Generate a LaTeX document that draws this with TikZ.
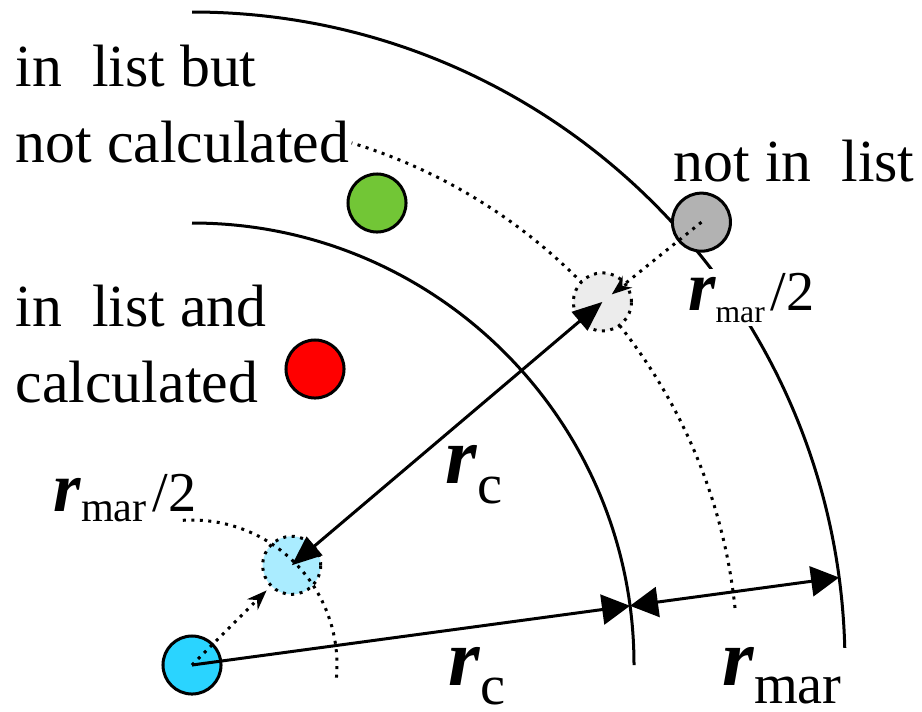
\documentclass[tikz,border=0pt]{standalone}
\usepackage{fontspec}
\setmainfont{Liberation Serif}
\usetikzlibrary{arrows.meta, calc}
\definecolor{ptblue}{RGB}{42,212,255}
\definecolor{ptlblue}{RGB}{170,236,255}
\definecolor{ptgray}{RGB}{178,178,178}
\definecolor{ptlgray}{RGB}{236,236,236}
\definecolor{ptgreen}{RGB}{114,198,54}
\definecolor{ptred}{RGB}{255,0,0}
\newcommand{\rsym}[4]{{\fontsize{#1}{#1}\selectfont\bfseries\itshape r}\raisebox{#4}{\fontsize{#2}{#2}\selectfont #3}}
\tikzset{
  orbit/.style={line width=0.03cm},
  dotline/.style={line width=0.03cm, dash pattern=on 0.03cm off 0.055cm},
  ball/.style={circle, draw=black, line width=0.03cm, minimum size=0.58cm, inner sep=0pt},
  ghost/.style={ball, dash pattern=on 0.03cm off 0.055cm},
  txt/.style={anchor=base west, inner sep=0pt},
  bigtip/.tip={Triangle[length=0.28cm, width=0.3cm]},
  longtip/.tip={Triangle[length=0.3cm, width=0.24cm]},
  dottip/.tip={Stealth[length=0.2cm, width=0.15cm]}
}

\begin{document}
\begin{tikzpicture}[x=0.01cm, y=0.01cm, font=\fontsize{17}{21.6}\selectfont]
  \useasboundingbox (0,0) rectangle (922,711);
  \coordinate (O) at (192,46);
  % cutoff shells
  \draw[orbit] ($(O)+(0:442)$) arc[start angle=0, end angle=90, radius=442];
  \draw[orbit] ($(O)+(1.5:653)$) arc[start angle=1.5, end angle=90, radius=653];
  \draw[dotline] ($(O)+(6:546)$) arc[start angle=6, end angle=73, radius=546];
  % texts (base = last line)
  \node[txt, align=left] (notcalc) at (15,549) {in\ \ list but\\not calculated};
  \node[txt, align=left] (incalc) at (15,309) {in\ \ list and\\calculated};
  \node[txt] (notin) at (673,530) {not in\ \ list};
  \node[txt, fill=white, inner sep=1pt] (halfup) at (684,401)
    {\rsym{20}{9}{mar}{-0.12cm}\hspace{0.06cm}{\fontsize{16}{16}\selectfont/2}};
  \node[txt] (halflow) at (53,200)
    {\rsym{20}{12}{mar}{-0.1cm}\hspace{0.06cm}{\fontsize{16}{16}\selectfont/2}};
  % particles
  \node[ball, fill=ptblue] (src) at (O) {};
  \node[ghost, fill=ptlblue] (lblue) at ($(O)+(45:141)$) {};
  \node[ghost, fill=ptlgray] (lgray) at ($(O)+(41.5:548)$) {};
  \node[ball, fill=ptgray] (far) at ($(O)+(41:675)$) {};
  \node[ball, fill=ptgreen] (green) at (377,508) {};
  \node[ball, fill=ptred] (red) at (315,342) {};
  \draw[dotline] ($(O)+(-5:145)$) arc[start angle=-5, end angle=94, radius=145];
  % distances
  \coordinate (rc) at ($(O)+(7.7:442)$);
  \coordinate (rm) at ($(O)+(7.7:653)$);
  \draw[orbit, -{bigtip}] (src.center) -- (rc);
  \draw[orbit, {bigtip}-{bigtip}] (rc) -- (rm);
  \draw[orbit, {longtip}-{longtip}] (lgray.center) -- (lblue.center);
  \draw[dotline, -{dottip}, shorten >=0.05cm] (src.center) -- (lblue);
  \draw[dotline, -{dottip}, shorten >=0.12cm] (far.center) -- (lgray.center);
  \node[txt] (rcmid) at (445,228) {\rsym{23}{16}{c}{-0.2cm}};
  \node[txt] (rcbot) at (448,26) {\rsym{23}{16}{c}{-0.19cm}};
  \node[txt] (rmbot) at (722,26) {\rsym{23}{16}{mar}{-0.18cm}};
\end{tikzpicture}
\end{document}
